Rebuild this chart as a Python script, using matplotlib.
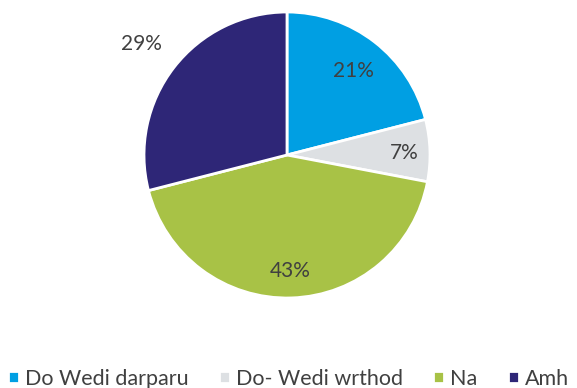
import numpy as np
import matplotlib.pyplot as plt

labels = ['Do Wedi darparu', 'Do- Wedi wrthod', 'Na', 'Amh']
values = [21, 7, 43, 29]
colors = ['#009FE3', '#DDE0E3', '#A8C246', '#2E2677']
label_dist = [0.76, 0.82, 0.80, 1.29]

plt.rcParams['font.family'] = ['Lato', 'DejaVu Sans']

fig = plt.figure(figsize=(5.77, 3.88), dpi=100)
ax = fig.add_axes([0, 0, 1, 1])

wedges, texts, autotexts = ax.pie(
    values, colors=colors, startangle=90, counterclock=False,
    autopct='%d%%', radius=1,
    wedgeprops=dict(edgecolor='white', linewidth=2),
    textprops=dict(color='#404040', fontsize=15),
)

for w, t, d in zip(wedges, autotexts, label_dist):
    mid = np.deg2rad((w.theta1 + w.theta2) / 2)
    t.set_position((d * np.cos(mid), d * np.sin(mid)))
    t.set_va('center_baseline')

# pie() resets the limits, so place the circle afterwards (radius 143 px)
r_px = 143
cx, cy = 287, 155
ax.set_xlim(-cx / r_px, (577 - cx) / r_px)
ax.set_ylim(-(388 - cy) / r_px, cy / r_px)
ax.set_aspect('equal')
ax.axis('off')

ax.legend(wedges, labels, ncol=4, loc='lower center', bbox_to_anchor=(0.5, -0.052),
          frameon=False, handlelength=0.5, handleheight=0.5, handletextpad=0.3,
          columnspacing=1.4, fontsize=15.5, labelcolor='#404040')

fig.savefig('out.png', dpi=100)
